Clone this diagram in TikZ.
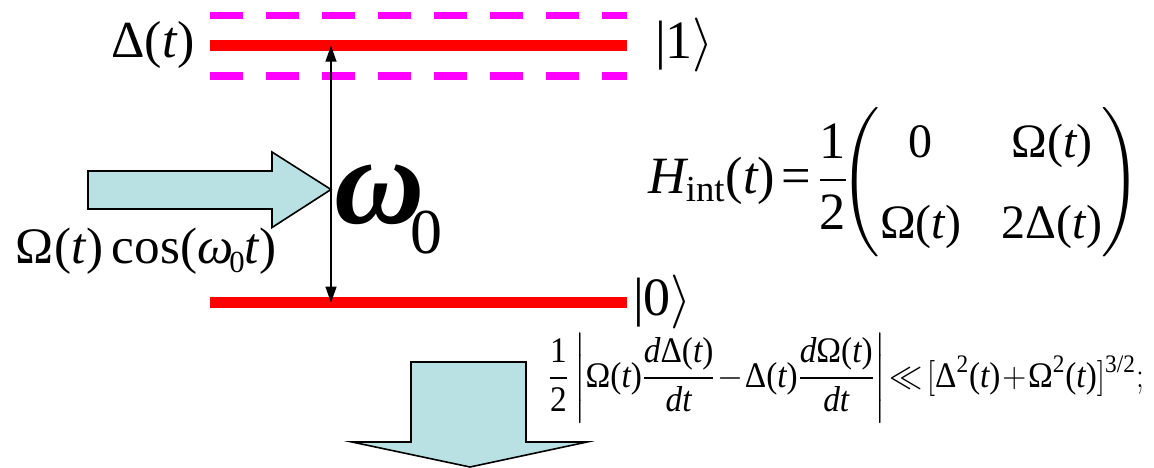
\RequirePackage{fix-cm}
\documentclass[tikz,border=0pt]{standalone}
\usepackage{amsmath}
\usepackage{graphicx}
\usepackage{fontspec}
\setmainfont{Liberation Serif}
\usetikzlibrary{arrows.meta}
\definecolor{arrowfill}{HTML}{B9E0E2}
\definecolor{levelred}{HTML}{FF0000}
\definecolor{shiftmag}{HTML}{FF00FF}
\newcommand\vi[1]{\text{\itshape #1}}
\newcommand\vr[1]{\text{\upshape #1}}
\newcommand\ofT{\vr{(}\vi{t}\vr{)}}
\newcommand\fs[2]{\fontsize{#1}{#2}\selectfont}
% text set at 20pt and scaled up
\newcommand\sctxt[2]{\scalebox{#1}{\fs{20}{24}#2}}
\begin{document}
\begin{tikzpicture}[x=1pt,y=-1pt,
  level/.style={levelred,line width=10.7pt},
  shifted/.style={shiftmag,line width=7.3pt,dash pattern=on 33pt off 23pt},
  transition/.style={line width=1.4pt,{Triangle[length=16pt,width=11pt]}-{Triangle[length=16pt,width=11pt]}},
  bigarrow/.style={fill=arrowfill,draw=black,line width=1.6pt,line join=miter},
  lbl/.style={inner sep=0pt,outer sep=0pt}]
\useasboundingbox (0,0) rectangle (1154,467);
\clip (0,0) rectangle (1154,467);
% level coordinates
\coordinate (d1w) at (210,15.7); \coordinate (d1e) at (627,15.7);
\coordinate (e1w) at (210,45.7); \coordinate (e1e) at (627,45.7);
\coordinate (d2w) at (210,76);   \coordinate (d2e) at (627,76);
\coordinate (e0w) at (210,302.6); \coordinate (e0e) at (627,302.6);
\coordinate (t1) at (331,45.7);
\coordinate (t0) at (331,302.6);
% driving field arrow
\draw[bigarrow] (88,171) -- (272,171) -- (272,152) -- (331,189.5) -- (272,227.5) -- (272,209) -- (88,209) -- cycle;
% down arrow
\draw[bigarrow] (411,362) -- (526,362) -- (526,442) -- (587,442) -- (470,467) -- (352,442) -- (411,442) -- cycle;
% levels
\draw[shifted] (d1w) -- (d1e);
\draw[shifted] (d2w) -- (d2e);
\draw[level] (e1w) -- (e1e);
\draw[level] (e0w) -- (e0e);
\draw[transition] (t1) -- (t0);
% labels
\node[lbl,anchor=base east] (delta) at (195,57) {\sctxt{2.6}{Δ(\textit{t})}};
\node[lbl,anchor=base west] (ket1) at (655,58) {\sctxt{2.7}{|1$\rangle$}};
\node[lbl,anchor=base west] (ket0) at (633,315) {\sctxt{2.7}{|0$\rangle$}};
\node[lbl,anchor=base west] (omega0) at (334,223) {\sctxt{6.25}{\bfseries\itshape ω}\kern-14pt\raisebox{-30pt}{\sctxt{3.2}{0}}};
\node[lbl,anchor=base west] (drive) at (16,263) {\sctxt{2.56}{Ω(\textit{t})\,cos(\textit{ω}\kern-1.6pt\raisebox{-3.6pt}{\fs{12}{14}0}\textit{t})}};
% Hamiltonian
\node[lbl,anchor=base west] (hlhs) at (648,193.5) {\sctxt{2.62}{$\displaystyle \vi{H}_{\vr{int}}\ofT\mkern2mu\vr{=}\mkern2mu\frac{\vr{1}}{\vr{2}}$}};
\node[lbl] (hmat) at (991,182) {\sctxt{2.4}{\renewcommand\arraystretch{1.406}\delimiterfactor=800 \delimitershortfall=20pt $\left(\begin{array}{@{\hspace{0pt}}c@{\hspace{17pt}}c@{\hspace{0pt}}}\vr{0} & \vr{Ω}\ofT\\ \vr{Ω}\ofT & \vr{2Δ}\ofT\end{array}\right)$}};
% adiabatic condition
\node[lbl,anchor=base west] (cond) at (548,387) {\scalebox{1.665}[1.8]{\fs{20}{24}\medmuskip=1mu\thickmuskip=2mu$\displaystyle \frac{\vr1}{\vr2}\left|\vr{Ω}\ofT\frac{\vi{d}\vr{Δ}\ofT}{\vi{dt}} - \vr{Δ}\ofT\frac{\vi{d}\vr{Ω}\ofT}{\vi{dt}}\right| \ll [\vr{Δ}^{\vr2}\ofT+\vr{Ω}^{\vr2}\ofT]^{\vr{3/2}};$}};
\end{tikzpicture}
\end{document}
